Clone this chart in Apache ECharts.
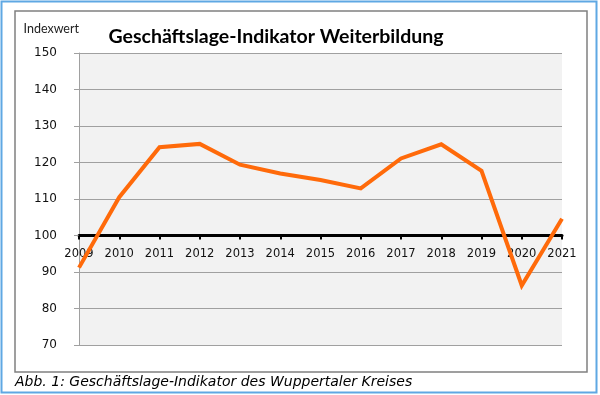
<!DOCTYPE html>
<html><head><meta charset="utf-8">
<script src="https://cdn.jsdelivr.net/npm/echarts@6/dist/echarts.min.js"></script>
<style>html,body{margin:0;padding:0;background:#fff}#c{width:600px;height:395px}</style>
</head><body><div id="c"></div>
<script>
const years = ['2009','2010','2011','2012','2013','2014','2015','2016','2017','2018','2019','2020','2021'];
const values = [91.2, 110.5, 124.2, 125.1, 119.4, 117.0, 115.2, 112.9, 121.1, 125.0, 117.7, 86.3, 104.6];
const yTicks = [70, 80, 90, 100, 110, 120, 130, 140, 150];
const titleText = 'Geschäftslage-Indikator Weiterbildung';
const yName = 'Indexwert';
const caption = 'Abb. 1: Geschäftslage-Indikator des Wuppertaler Kreises';

const chart = echarts.init(document.getElementById('c'), null, {renderer: 'canvas'});
const gridTop = 53, gridBottom = 395 - 345, gridLeft = 79, gridRight = 600 - 562;
const plotH = 345 - 53;
const yMin = yTicks[0], yMax = yTicks[yTicks.length - 1];
const axisOffset = -((100 - yMin) / (yMax - yMin)) * plotH;

chart.setOption({
  animation: false,
  backgroundColor: '#fff',
  graphic: [
    {type: 'rect', shape: {x: 1.5, y: 1.5, width: 595, height: 391}, style: {fill: 'none', stroke: '#5fa8e3', lineWidth: 2}, z: -10},
    {type: 'rect', shape: {x: 15, y: 11, width: 572, height: 361}, style: {fill: '#fff', stroke: '#808080', lineWidth: 1.5}, z: -9},
    {type: 'text', left: 15, top: 375, style: {text: caption, font: 'italic 14px "DejaVu Sans"', fill: '#000'}}
  ],
  title: {
    text: titleText,
    left: 271, top: 22, textAlign: 'center',
    textStyle: {fontFamily: 'Lato', fontWeight: 'bold', fontSize: 19.5, color: '#000'}
  },
  grid: {left: gridLeft, right: gridRight, top: gridTop, bottom: gridBottom, show: true, backgroundColor: '#f2f2f2', borderWidth: 0},
  xAxis: {
    type: 'category', data: years, boundaryGap: false,
    position: 'bottom', offset: axisOffset,
    axisLine: {show: true, onZero: false, lineStyle: {color: '#000', width: 3}},
    axisTick: {show: true, alignWithLabel: true, length: 4, lineStyle: {color: '#000', width: 2}},
    axisLabel: {color: '#111', fontFamily: 'DejaVu Sans', fontSize: 11.5, margin: 13, interval: 0},
    splitLine: {show: false}
  },
  yAxis: {
    type: 'value', min: yMin, max: yMax, interval: 10,
    name: yName, nameLocation: 'end', nameGap: 18,
    nameTextStyle: {fontFamily: 'Lato', fontSize: 12.5, color: '#222', align: 'right', padding: [0, 0, 0, 0]},
    axisLine: {show: true, lineStyle: {color: '#a0a0a0', width: 1}},
    axisTick: {show: true, length: 5, lineStyle: {color: '#a0a0a0'}},
    axisLabel: {color: '#111', fontFamily: 'DejaVu Sans', fontSize: 12, margin: 22},
    splitLine: {show: true, lineStyle: {color: '#a0a0a0', width: 1}}
  },
  series: [{
    type: 'line', data: values, showSymbol: false, symbol: 'none',
    lineStyle: {color: '#ff6a0a', width: 4, cap: 'butt', join: 'miter'},
    z: 1
  }]
});
</script></body></html>
